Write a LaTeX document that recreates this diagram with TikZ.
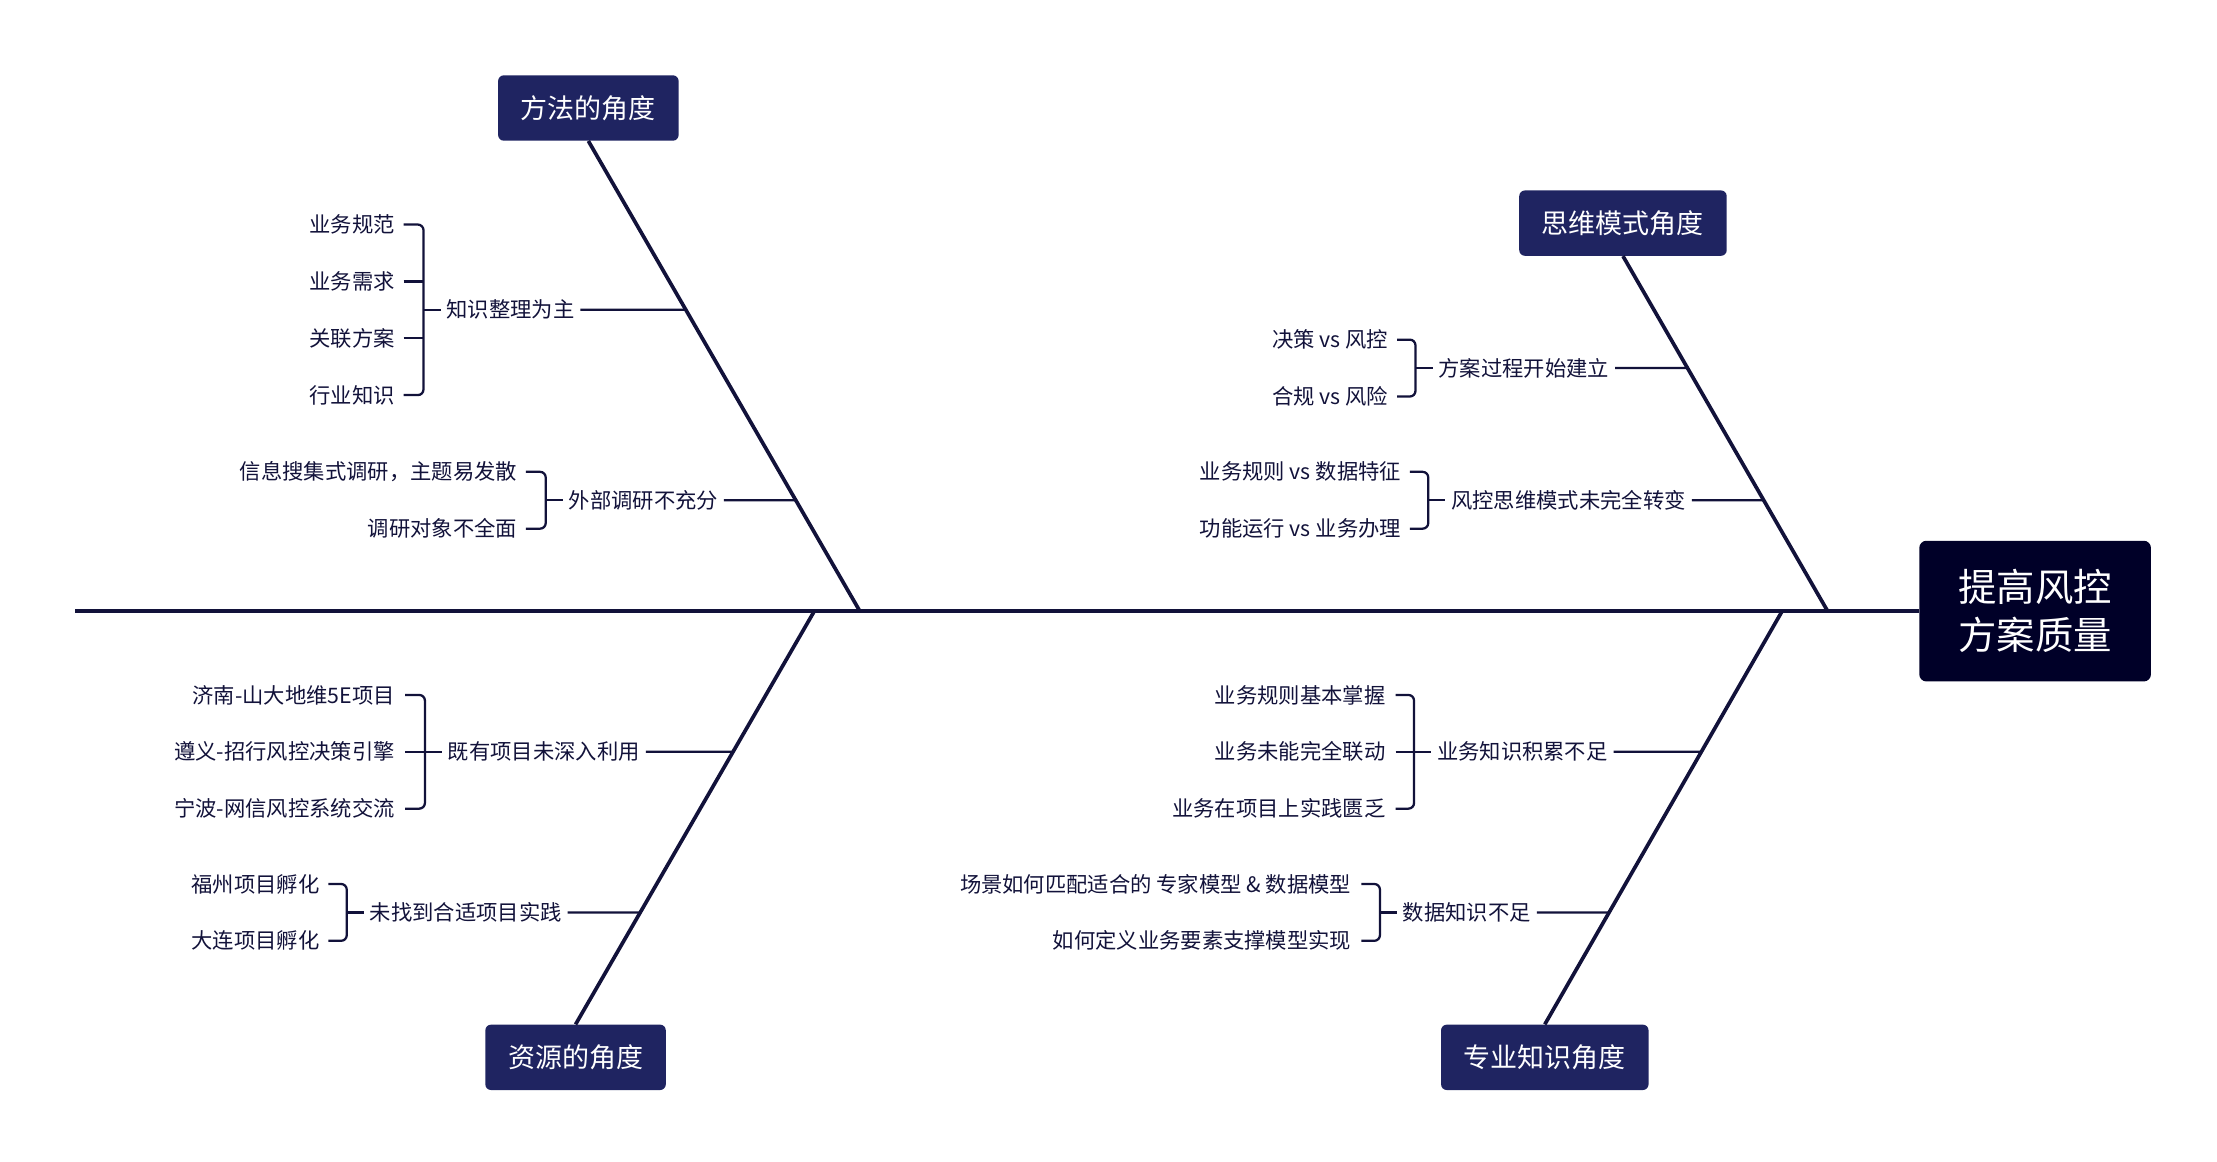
\documentclass[tikz,border=0pt]{standalone}
\usepackage{fontspec}
\setmainfont{Noto Sans CJK SC}
\definecolor{ink}{HTML}{12123A}
\definecolor{catc}{HTML}{1F2461}
\definecolor{headc}{HTML}{000028}
\begin{document}
\begin{tikzpicture}[x=1pt,y=-1pt,
 bone/.style={draw=ink,line width=2.6pt},
 thin/.style={draw=ink,line width=1.6pt},
 cat/.style={fill=catc,text=white,rounded corners=4pt,minimum height=46pt,inner xsep=16pt,font=\fontsize{19}{21}\selectfont},
 leaf/.style={text=ink,font=\fontsize{15}{17}\selectfont,inner sep=0pt,anchor=east},
 lab/.style={text=ink,font=\fontsize{15}{17}\selectfont,inner sep=4pt,anchor=west},
 brace/.style={thin,rounded corners=4pt}]
\useasboundingbox (0,0) rectangle (1560,817);
% head
\node[fill=headc,text=white,rounded corners=5pt,minimum width=163pt,minimum height=99pt,align=center,font=\fontsize{27}{34}\selectfont] (head) at (1432,430) {提高风控\\方案质量};
\coordinate (tail) at (53,430);
\draw[bone] (tail) -- (head.west);
% categories
\node[cat] (c1) at (414,76) {方法的角度};
\node[cat] (c2) at (1142,157) {思维模式角度};
\node[cat] (c3) at (405,744) {资源的角度};
\node[cat] (c4) at (1087,744) {专业知识角度};
\coordinate (e1) at (605,430); \coordinate (e2) at (1286,430);
\coordinate (e3) at (573,430); \coordinate (e4) at (1254,430);
\draw[bone] (c1.south) -- (e1);
\draw[bone] (c2.south) -- (e2);
\draw[bone] (c3.north) -- (e3);
\draw[bone] (c4.north) -- (e4);
% group 1
\node[leaf] (l11) at (278,158) {业务规范};
\node[leaf] (l12) at (278,198) {业务需求};
\node[leaf] (l13) at (278,238) {关联方案};
\node[leaf] (l14) at (278,278) {行业知识};
\draw[brace] (284,158) -- (298,158) -- (298,278) -- (284,278);
\draw[thin] (284,198) -- (298,198) (284,238) -- (298,238) (298,218) -- (310,218);
\node[lab] (g1) at (310,218) {知识整理为主};
\draw[thin] (g1.east) -- (intersection of g1.east--{[xshift=1pt]g1.east} and c1.south--e1);
% group 2
\node[leaf] (l21) at (364,332) {信息搜集式调研，主题易发散};
\node[leaf] (l22) at (364,372) {调研对象不全面};
\draw[brace] (370,332) -- (384,332) -- (384,372) -- (370,372);
\draw[thin] (384,352) -- (396,352);
\node[lab] (g2) at (396,352) {外部调研不充分};
\draw[thin] (g2.east) -- (intersection of g2.east--{[xshift=1pt]g2.east} and c1.south--e1);
% group 3
\node[leaf] (l31) at (977,239) {决策 vs 风控};
\node[leaf] (l32) at (977,279) {合规 vs 风险};
\draw[brace] (983,239) -- (996,239) -- (996,279) -- (983,279);
\draw[thin] (996,259) -- (1008,259);
\node[lab] (g3) at (1008,259) {方案过程开始建立};
\draw[thin] (g3.east) -- (intersection of g3.east--{[xshift=1pt]g3.east} and c2.south--e2);
% group 4
\node[leaf] (l41) at (986,332) {业务规则 vs 数据特征};
\node[leaf] (l42) at (986,372) {功能运行 vs 业务办理};
\draw[brace] (992,332) -- (1005,332) -- (1005,372) -- (992,372);
\draw[thin] (1005,352) -- (1017,352);
\node[lab] (g4) at (1017,352) {风控思维模式未完全转变};
\draw[thin] (g4.east) -- (intersection of g4.east--{[xshift=1pt]g4.east} and c2.south--e2);
% group 5
\node[leaf] (l51) at (278,489) {济南-山大地维5E项目};
\node[leaf] (l52) at (278,529) {遵义-招行风控决策引擎};
\node[leaf] (l53) at (278,569) {宁波-网信风控系统交流};
\draw[brace] (285,489) -- (299,489) -- (299,569) -- (285,569);
\draw[thin] (285,529) -- (311,529);
\node[lab] (g5) at (311,529) {既有项目未深入利用};
\draw[thin] (g5.east) -- (intersection of g5.east--{[xshift=1pt]g5.east} and c3.north--e3);
% group 6
\node[leaf] (l61) at (225,622) {福州项目孵化};
\node[leaf] (l62) at (225,662) {大连项目孵化};
\draw[brace] (231,622) -- (244,622) -- (244,662) -- (231,662);
\draw[thin] (244,642) -- (256,642);
\node[lab] (g6) at (256,642) {未找到合适项目实践};
\draw[thin] (g6.east) -- (intersection of g6.east--{[xshift=1pt]g6.east} and c3.north--e3);
% group 7
\node[leaf] (l71) at (975,489) {业务规则基本掌握};
\node[leaf] (l72) at (975,529) {业务未能完全联动};
\node[leaf] (l73) at (975,569) {业务在项目上实践匮乏};
\draw[brace] (982,489) -- (995,489) -- (995,569) -- (982,569);
\draw[thin] (982,529) -- (1007,529);
\node[lab] (g7) at (1007,529) {业务知识积累不足};
\draw[thin] (g7.east) -- (intersection of g7.east--{[xshift=1pt]g7.east} and c4.north--e4);
% group 8
\node[leaf] (l81) at (951,622) {场景如何匹配适合的 专家模型 \& 数据模型};
\node[leaf] (l82) at (951,662) {如何定义业务要素支撑模型实现};
\draw[brace] (958,622) -- (971,622) -- (971,662) -- (958,662);
\draw[thin] (971,642) -- (983,642);
\node[lab] (g8) at (983,642) {数据知识不足};
\draw[thin] (g8.east) -- (intersection of g8.east--{[xshift=1pt]g8.east} and c4.north--e4);
\end{tikzpicture}
\end{document}
